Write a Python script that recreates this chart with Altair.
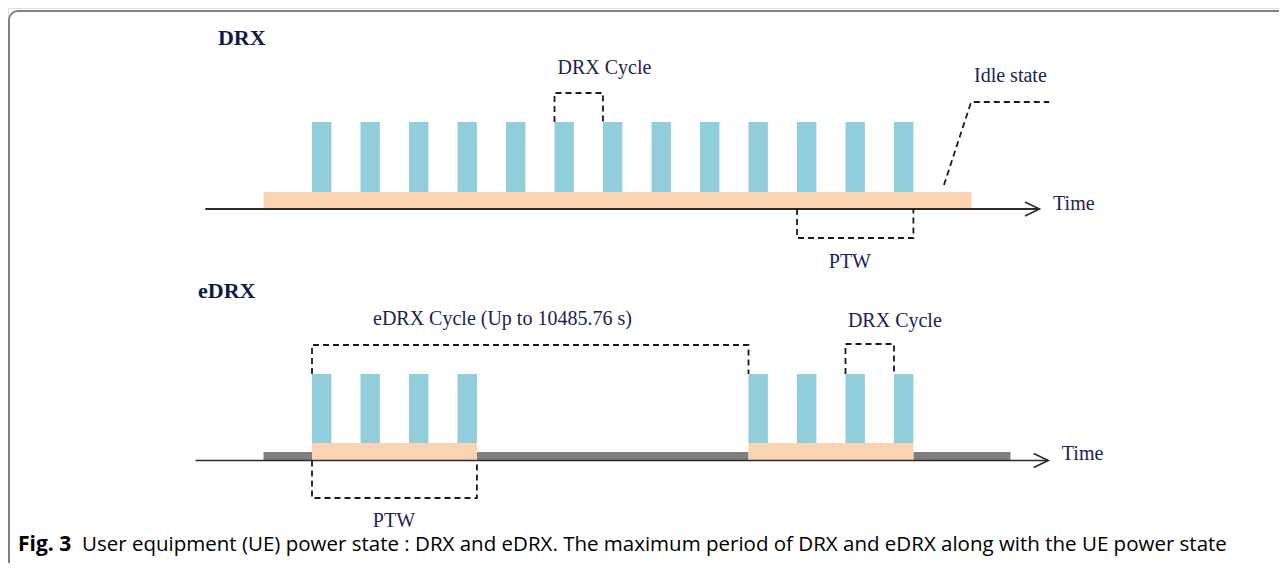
import altair as alt
import pandas as pd

# ---------------- data (time in DRX-cycle units) ----------------
drx_on_starts = [0, 1, 2, 3, 4, 5, 6, 7, 8, 9, 10, 11, 12]
edrx_on_starts = [0, 1, 2, 3, 9, 10, 11, 12]
on_duration = 0.4
drx_active = [-1.0, 13.6]            # DRX: connected/active period
edrx_ptw = [[0, 3.4], [9, 12.4]]      # eDRX paging time windows
edrx_sleep = [[-1.0, 0], [3.4, 9], [12.4, 14.4]]
drx_ptw = [10, 12.4]
drx_cycle_top = [5, 6]
drx_cycle_bottom = [11, 12]
edrx_cycle = [0, 9]
idle_path_t = [13.03, 13.59, 15.2]
time_axis_top = [-2.2, 15.0]
time_axis_bottom = [-2.4, 15.18]

labels_serif = ["DRX Cycle", "Idle state", "Time", "PTW",
                "eDRX Cycle (Up to 10485.76 s)", "DRX Cycle", "Time", "PTW"]
titles = ["DRX", "eDRX"]
caption_bold = "Fig. 3"
caption_rest = ("User equipment (UE) power state : DRX and eDRX. The maximum period of "
                "DRX and eDRX along with the UE power state")

# ---------------- layout (rows on the page) ----------------
ROW = dict(bar_top_a=122, band_top_a=192, axis_a=209, brk_a=93, idle_a=102, idle_b=185, ptw_a=238,
           bar_top_b=374, band_top_b=443, sleep_top_b=452, axis_b=460.5, brk_b=345, brk_b2=344, ptw_b=498)

BLUE = "#92CDDC"
PEACH = "#FAD3B2"
GREY = "#7F7F7F"
NAVY = "#1B2352"
W, H = 1271, 555
T0, T1 = -304 / 48.5, (1271 - 304) / 48.5

xs = alt.Scale(domain=[T0, T1], nice=False, zero=False)
ys = alt.Scale(domain=[8, 8 + H], reverse=True, nice=False, zero=False)

# rectangles
rects = []
rects.append(dict(x=drx_active[0], x2=drx_active[1], y=ROW["band_top_a"], y2=ROW["axis_a"] - 1, fill=PEACH))
for s in drx_on_starts:
    rects.append(dict(x=s, x2=s + on_duration, y=ROW["bar_top_a"], y2=ROW["band_top_a"], fill=BLUE))
for a, b in edrx_sleep:
    rects.append(dict(x=a, x2=b, y=ROW["sleep_top_b"], y2=ROW["axis_b"], fill=GREY))
for a, b in edrx_ptw:
    rects.append(dict(x=a, x2=b, y=ROW["band_top_b"], y2=ROW["axis_b"], fill=PEACH))
for s in edrx_on_starts:
    rects.append(dict(x=s, x2=s + on_duration, y=ROW["bar_top_b"], y2=ROW["band_top_b"], fill=BLUE))
rect_df = pd.DataFrame(rects)

rect_layer = alt.Chart(rect_df).mark_rect().encode(
    x=alt.X("x:Q", scale=xs, axis=None),
    x2="x2",
    y=alt.Y("y:Q", scale=ys, axis=None),
    y2="y2",
    color=alt.Color("fill:N", scale=None),
)

# axes lines
axis_df = pd.DataFrame([
    dict(x=time_axis_top[0], x2=time_axis_top[1], y=ROW["axis_a"], w=2),
    dict(x=time_axis_bottom[0], x2=time_axis_bottom[1], y=ROW["axis_b"], w=1.6),
])
axis_layer = alt.Chart(axis_df).mark_rule(color="#2b2b2b").encode(
    x=alt.X("x:Q", scale=xs, axis=None), x2="x2",
    y=alt.Y("y:Q", scale=ys, axis=None),
    strokeWidth=alt.StrokeWidth("w:Q", scale=None),
)

# arrow heads
arrows = []
for i, (tip, yy) in enumerate([(time_axis_top[1], ROW["axis_a"]), (time_axis_bottom[1], ROW["axis_b"])]):
    arrows += [dict(id=i, o=0, x=tip - 0.3, y=yy - 7), dict(id=i, o=1, x=tip, y=yy),
               dict(id=i, o=2, x=tip - 0.3, y=yy + 7)]
arrow_layer = alt.Chart(pd.DataFrame(arrows)).mark_line(color="#2b2b2b", strokeWidth=1.6).encode(
    x=alt.X("x:Q", scale=xs, axis=None), y=alt.Y("y:Q", scale=ys, axis=None),
    detail="id:N", order="o:Q")

# dashed brackets
def bracket(i, a, b, y0, y1):
    return [dict(id=i, o=0, x=a, y=y0), dict(id=i, o=1, x=a, y=y1),
            dict(id=i, o=2, x=b, y=y1), dict(id=i, o=3, x=b, y=y0)]

dash = []
dash += bracket(0, drx_cycle_top[0], drx_cycle_top[1], ROW["bar_top_a"], ROW["brk_a"])
dash += bracket(1, drx_ptw[0], drx_ptw[1], ROW["axis_a"], ROW["ptw_a"])
dash += bracket(2, edrx_cycle[0], edrx_cycle[1], ROW["bar_top_b"], ROW["brk_b"])
dash += bracket(3, drx_cycle_bottom[0], drx_cycle_bottom[1], ROW["bar_top_b"], ROW["brk_b2"])
dash += bracket(4, edrx_ptw[0][0], edrx_ptw[0][1], ROW["axis_b"], ROW["ptw_b"])
dash += [dict(id=5, o=0, x=idle_path_t[0], y=ROW["idle_b"]),
         dict(id=5, o=1, x=idle_path_t[1], y=ROW["idle_a"]),
         dict(id=5, o=2, x=idle_path_t[2], y=ROW["idle_a"])]
dash_layer = alt.Chart(pd.DataFrame(dash)).mark_line(
    color="#1a1a1a", strokeWidth=1.8, strokeDash=[6, 4]).encode(
    x=alt.X("x:Q", scale=xs, axis=None), y=alt.Y("y:Q", scale=ys, axis=None),
    detail="id:N", order="o:Q")

# serif labels
lab = pd.DataFrame(dict(
    text=labels_serif,
    x=[6.03, 13.65, 15.28, 11.09, 1.258, 11.05, 15.46, 1.69],
    y=[74, 82, 210, 268, 325, 327, 460, 527],
    align=["center", "left", "left", "center", "left", "left", "left", "center"],
))
lab_layers = []
for al in ["center", "left"]:
    lab_layers.append(alt.Chart(lab[lab["align"] == al]).mark_text(
        font="Liberation Serif", fontSize=20, color=NAVY, align=al, baseline="alphabetic").encode(
        x=alt.X("x:Q", scale=xs, axis=None), y=alt.Y("y:Q", scale=ys, axis=None), text="text:N"))

tit = pd.DataFrame(dict(text=titles, x=[-1.94, -2.35], y=[45, 298]))
title_layer = alt.Chart(tit).mark_text(
    font="Liberation Serif", fontSize=22, fontWeight="bold", color="#101a48",
    align="left", baseline="alphabetic").encode(
    x=alt.X("x:Q", scale=xs, axis=None), y=alt.Y("y:Q", scale=ys, axis=None), text="text:N")

one = pd.DataFrame({"a": [0]})
cap1 = alt.Chart(one).mark_text(font="Open Sans", fontSize=21, fontWeight="bold", color="#000",
                               align="left", baseline="alphabetic", text=caption_bold).encode(
    x=alt.value(10), y=alt.value(543))
cap2 = alt.Chart(one).mark_text(font="Open Sans", fontSize=20.5, color="#000",
                               align="left", baseline="alphabetic", text=caption_rest).encode(
    x=alt.value(74), y=alt.value(543))

border = alt.Chart(one).mark_rect(fillOpacity=0, stroke="#808080", strokeWidth=2, cornerRadius=9).encode(
    x=alt.value(1), x2=alt.value(1700), y=alt.value(3), y2=alt.value(900))

chart = alt.layer(border, rect_layer, axis_layer, arrow_layer, dash_layer, *lab_layers, title_layer, cap1, cap2).properties(
    width=W, height=H, autosize=alt.AutoSizeParams(type="none"), padding=0,
).configure_view(strokeWidth=0).configure(background="white")

chart.save("out.html", embed_options={"renderer": "svg", "actions": False})
